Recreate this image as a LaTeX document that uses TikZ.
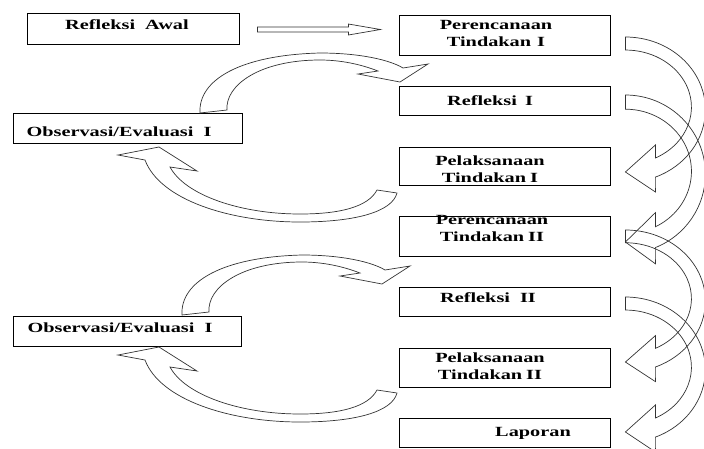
\documentclass[tikz,border=0pt]{standalone}
\usepackage{fontspec}
\setmainfont{Liberation Serif}[FakeStretch=1.45]

\tikzset{
  box/.style={draw, line width=0.8pt, inner sep=0pt, minimum width=211pt},
  lbl/.style={font=\fontsize{14}{17}\selectfont\bfseries, align=center, inner sep=0pt},
  barrow/.style={draw=black!80, line width=0.7pt, line join=miter},
  % curved arrow on the right, tail top at the origin
  pics/rarrow/.style={code={
    \draw[barrow] (0,0) arc[start angle=90, end angle=-68, x radius=80, y radius=72.7]
      -- (30,-155) -- (0,-135) -- (30,-108) -- (30,-121)
      arc[start angle=-63, end angle=90, x radius=66, y radius=57.1] -- cycle;
  }},
  % upper arc of the left cycle
  pics/toparc/.style={code={
    \draw[barrow] (200,-113) .. controls (198,-80) and (240,-55) .. (320,-53)
      .. controls (360,-53) and (390,-60) .. (403,-68)
      -- (428,-64) -- (400,-82) -- (358,-74) -- (378,-71)
      .. controls (360,-64) and (340,-60) .. (320,-60)
      .. controls (260,-60) and (225,-85) .. (227,-110) -- cycle;
  }},
  % lower arc of the left cycle
  pics/botarc/.style={code={
    \draw[barrow] (118,-155) -- (145,-160)
      .. controls (160,-200) and (230,-222) .. (300,-222)
      .. controls (355,-222) and (392,-212) .. (397,-193)
      -- (377,-190)
      .. controls (368,-207) and (340,-214) .. (300,-214)
      .. controls (240,-214) and (185,-195) .. (170,-167)
      -- (197,-171) -- (159,-147) -- cycle;
  }},
}

\begin{document}
\begin{tikzpicture}[x=1pt,y=1pt]
  \useasboundingbox (0,0) rectangle (704,-448);

  % boxes
  \node[box, minimum width=212pt, minimum height=31pt] (awal) at (133,-28.5) {};
  \node[box, minimum height=40pt] (per1) at (504.5,-35) {};
  \node[box, minimum height=29pt] (ref1) at (504.5,-100.5) {};
  \node[box, minimum height=38pt] (pel1) at (504.5,-166) {};
  \node[box, minimum height=40pt] (per2) at (504.5,-236) {};
  \node[box, minimum height=29pt] (ref2) at (504.5,-301.5) {};
  \node[box, minimum height=39pt] (pel2) at (504.5,-367.5) {};
  \node[box, minimum height=29pt] (lap) at (504.5,-432.5) {};
  \node[box, minimum width=229pt, minimum height=30pt] (obs1) at (127.5,-128) {};
  \node[box, minimum width=228pt, minimum height=30pt] (obs2) at (127,-331) {};

  % labels
  \node[lbl] (tawal) at (127,-25) {Refleksi\hspace{10pt}Awal};
  \node[lbl] (tper1) at (496,-33) {Perencanaan\\Tindakan\hspace{6pt}I};
  \node[lbl] (tref1) at (490,-101) {Refleksi\hspace{8pt}I};
  \node[lbl] (tpel1) at (490,-169) {Pelaksanaan\\Tindakan\hspace{4pt}I};
  \node[lbl] (tper2) at (492,-228) {Perencanaan\\Tindakan\hspace{4pt}II};
  \node[lbl] (tref2) at (488,-298) {Refleksi\hspace{10pt}II};
  \node[lbl] (tpel2) at (490,-366) {Pelaksanaan\\Tindakan\hspace{4pt}II};
  \node[lbl] (tlap) at (533,-433) {Laporan};
  \node[lbl] (tobs1) at (119,-132) {Observasi/Evaluasi\hspace{10pt}I};
  \node[lbl] (tobs2) at (120,-328) {Observasi/Evaluasi\hspace{10pt}I};

  % straight arrow
  \coordinate (a1) at ([xshift=18pt,yshift=-1pt]awal.east);
  \draw[barrow] (a1) ++(0,2.5) -- ++(91,0) -- ++(0,3) -- ++(32,-5.5)
    -- ++(-32,-5.5) -- ++(0,3) -- ++(-91,0) -- cycle;

  % right side
  \pic at ([xshift=15pt,yshift=-2pt]per1.east) {rarrow};
  \pic[yscale=1.089] at ([xshift=15pt,yshift=5.5pt]ref1.east) {rarrow};
  \pic[yscale=0.978] at ([xshift=15pt,yshift=6pt]per2.east) {rarrow};
  \pic at ([xshift=15pt,yshift=4.5pt]ref2.east) {rarrow};

  % left cycles
  \pic at (0,0) {toparc};
  \pic at (0,0) {botarc};
  \pic at (-18,-202) {toparc};
  \pic at (0,-200) {botarc};
\end{tikzpicture}
\end{document}
